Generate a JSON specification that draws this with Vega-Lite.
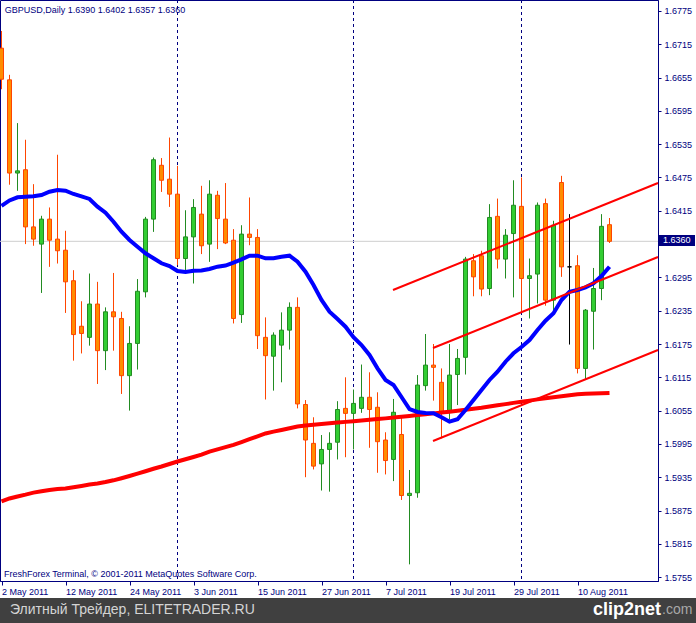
{
  "$schema": "https://vega.github.io/schema/vega-lite/v6.json",
  "width": 658,
  "height": 581,
  "autosize": {"type": "none"},
  "padding": {"left": 0, "top": 0, "right": 38, "bottom": 42},
  "background": "#ffffff",
  "config": {
    "view": {"stroke": "#000080", "strokeWidth": 1},
    "font": "Liberation Sans",
    "scale": {"continuousPadding": 0},
    "axis": {"grid": false, "title": null, "labelFont": "Liberation Sans", "labelFontSize": 9, "labelColor": "#000080", "tickColor": "#000080", "domainColor": "#000080", "labelOverlap": false, "labelFlush": false, "labelBound": false}
  },
  "datasets": {
    "bars": [
      {"i":0,"d":"2011-05-02","o":1.6708,"h":1.6739,"l":1.6634,"c":1.6652,"ma":1.64237,"ma2":1.58913},
      {"i":1,"d":"2011-05-03","o":1.6651,"h":1.6660,"l":1.6462,"c":1.6483,"ma":1.64336,"ma2":1.58967},
      {"i":2,"d":"2011-05-04","o":1.6483,"h":1.6573,"l":1.6451,"c":1.6487,"ma":1.64393,"ma2":1.59003},
      {"i":3,"d":"2011-05-05","o":1.6489,"h":1.6543,"l":1.6355,"c":1.6386,"ma":1.64402,"ma2":1.59036},
      {"i":4,"d":"2011-05-06","o":1.6386,"h":1.6463,"l":1.6352,"c":1.6364,"ma":1.64411,"ma2":1.59073},
      {"i":5,"d":"2011-05-09","o":1.6355,"h":1.6406,"l":1.6267,"c":1.6400,"ma":1.64435,"ma2":1.59098},
      {"i":6,"d":"2011-05-10","o":1.6400,"h":1.6421,"l":1.6314,"c":1.6362,"ma":1.64494,"ma2":1.59120},
      {"i":7,"d":"2011-05-11","o":1.6364,"h":1.6516,"l":1.6320,"c":1.6343,"ma":1.64525,"ma2":1.59138},
      {"i":8,"d":"2011-05-12","o":1.6344,"h":1.6379,"l":1.6231,"c":1.6287,"ma":1.64512,"ma2":1.59146},
      {"i":9,"d":"2011-05-13","o":1.6289,"h":1.6308,"l":1.6145,"c":1.6192,"ma":1.64453,"ma2":1.59170},
      {"i":10,"d":"2011-05-16","o":1.6207,"h":1.6252,"l":1.6158,"c":1.6194,"ma":1.64411,"ma2":1.59193},
      {"i":11,"d":"2011-05-17","o":1.6187,"h":1.6302,"l":1.6172,"c":1.6247,"ma":1.64363,"ma2":1.59217},
      {"i":12,"d":"2011-05-18","o":1.6247,"h":1.6287,"l":1.6103,"c":1.6163,"ma":1.64224,"ma2":1.59236},
      {"i":13,"d":"2011-05-19","o":1.6163,"h":1.6241,"l":1.6128,"c":1.6233,"ma":1.64116,"ma2":1.59263},
      {"i":14,"d":"2011-05-20","o":1.6233,"h":1.6303,"l":1.6163,"c":1.6224,"ma":1.63954,"ma2":1.59294},
      {"i":15,"d":"2011-05-23","o":1.6221,"h":1.6233,"l":1.6085,"c":1.6118,"ma":1.63773,"ma2":1.59332},
      {"i":16,"d":"2011-05-24","o":1.6118,"h":1.6207,"l":1.6055,"c":1.6176,"ma":1.63624,"ma2":1.59372},
      {"i":17,"d":"2011-05-25","o":1.6176,"h":1.6292,"l":1.6129,"c":1.6270,"ma":1.63503,"ma2":1.59415},
      {"i":18,"d":"2011-05-26","o":1.6269,"h":1.6404,"l":1.6259,"c":1.6400,"ma":1.63384,"ma2":1.59458},
      {"i":19,"d":"2011-05-27","o":1.6400,"h":1.6511,"l":1.6377,"c":1.6507,"ma":1.63294,"ma2":1.59502},
      {"i":20,"d":"2011-05-30","o":1.6497,"h":1.6510,"l":1.6449,"c":1.6470,"ma":1.63204,"ma2":1.59543},
      {"i":21,"d":"2011-05-31","o":1.6472,"h":1.6547,"l":1.6422,"c":1.6445,"ma":1.63155,"ma2":1.59588},
      {"i":22,"d":"2011-06-01","o":1.6445,"h":1.6496,"l":1.6317,"c":1.6329,"ma":1.63065,"ma2":1.59633},
      {"i":23,"d":"2011-06-02","o":1.6329,"h":1.6416,"l":1.6302,"c":1.6368,"ma":1.63047,"ma2":1.59673},
      {"i":24,"d":"2011-06-03","o":1.6368,"h":1.6436,"l":1.6284,"c":1.6421,"ma":1.63071,"ma2":1.59714},
      {"i":25,"d":"2011-06-06","o":1.6409,"h":1.6460,"l":1.6337,"c":1.6352,"ma":1.63074,"ma2":1.59757},
      {"i":26,"d":"2011-06-07","o":1.6355,"h":1.6470,"l":1.6323,"c":1.6445,"ma":1.63101,"ma2":1.59811},
      {"i":27,"d":"2011-06-08","o":1.6443,"h":1.6451,"l":1.6346,"c":1.6401,"ma":1.63143,"ma2":1.59851},
      {"i":28,"d":"2011-06-09","o":1.6400,"h":1.6465,"l":1.6355,"c":1.6357,"ma":1.63164,"ma2":1.59891},
      {"i":29,"d":"2011-06-10","o":1.6362,"h":1.6382,"l":1.6212,"c":1.6221,"ma":1.63215,"ma2":1.59934},
      {"i":30,"d":"2011-06-13","o":1.6228,"h":1.6389,"l":1.6213,"c":1.6373,"ma":1.63276,"ma2":1.59984},
      {"i":31,"d":"2011-06-14","o":1.6373,"h":1.6439,"l":1.6353,"c":1.6367,"ma":1.63341,"ma2":1.60037},
      {"i":32,"d":"2011-06-15","o":1.6367,"h":1.6382,"l":1.6166,"c":1.6190,"ma":1.63341,"ma2":1.60087},
      {"i":33,"d":"2011-06-16","o":1.6187,"h":1.6223,"l":1.6075,"c":1.6154,"ma":1.63294,"ma2":1.60138},
      {"i":34,"d":"2011-06-17","o":1.6153,"h":1.6196,"l":1.6091,"c":1.6191,"ma":1.63294,"ma2":1.60172},
      {"i":35,"d":"2011-06-20","o":1.6173,"h":1.6232,"l":1.6106,"c":1.6200,"ma":1.63323,"ma2":1.60202},
      {"i":36,"d":"2011-06-21","o":1.6200,"h":1.6250,"l":1.6165,"c":1.6241,"ma":1.63341,"ma2":1.60233},
      {"i":37,"d":"2011-06-22","o":1.6241,"h":1.6259,"l":1.6059,"c":1.6067,"ma":1.63233,"ma2":1.60264},
      {"i":38,"d":"2011-06-23","o":1.6066,"h":1.6074,"l":1.5935,"c":1.6002,"ma":1.63053,"ma2":1.60282},
      {"i":39,"d":"2011-06-24","o":1.5996,"h":1.6043,"l":1.5949,"c":1.5955,"ma":1.62813,"ma2":1.60294},
      {"i":40,"d":"2011-06-27","o":1.5959,"h":1.6011,"l":1.5911,"c":1.5985,"ma":1.62543,"ma2":1.60309},
      {"i":41,"d":"2011-06-28","o":1.5985,"h":1.6016,"l":1.5909,"c":1.5996,"ma":1.62332,"ma2":1.60321},
      {"i":42,"d":"2011-06-29","o":1.5998,"h":1.6072,"l":1.5967,"c":1.6057,"ma":1.62201,"ma2":1.60334},
      {"i":43,"d":"2011-06-30","o":1.6059,"h":1.6115,"l":1.5971,"c":1.6050,"ma":1.62062,"ma2":1.60347},
      {"i":44,"d":"2011-07-01","o":1.6050,"h":1.6093,"l":1.5985,"c":1.6068,"ma":1.61871,"ma2":1.60359},
      {"i":45,"d":"2011-07-04","o":1.6059,"h":1.6138,"l":1.6051,"c":1.6079,"ma":1.61732,"ma2":1.60372},
      {"i":46,"d":"2011-07-05","o":1.6079,"h":1.6124,"l":1.5988,"c":1.6057,"ma":1.61552,"ma2":1.60384},
      {"i":47,"d":"2011-07-06","o":1.6061,"h":1.6088,"l":1.5943,"c":1.5999,"ma":1.61312,"ma2":1.60397},
      {"i":48,"d":"2011-07-07","o":1.6002,"h":1.6016,"l":1.5940,"c":1.5965,"ma":1.61102,"ma2":1.60410},
      {"i":49,"d":"2011-07-08","o":1.5967,"h":1.6076,"l":1.5928,"c":1.6052,"ma":1.61012,"ma2":1.60424},
      {"i":50,"d":"2011-07-11","o":1.6012,"h":1.6043,"l":1.5894,"c":1.5902,"ma":1.60795,"ma2":1.60439},
      {"i":51,"d":"2011-07-12","o":1.5902,"h":1.5948,"l":1.5778,"c":1.5906,"ma":1.60579,"ma2":1.60453},
      {"i":52,"d":"2011-07-13","o":1.5907,"h":1.6119,"l":1.5898,"c":1.6101,"ma":1.60525,"ma2":1.60469},
      {"i":53,"d":"2011-07-14","o":1.6100,"h":1.6193,"l":1.6091,"c":1.6137,"ma":1.60507,"ma2":1.60484},
      {"i":54,"d":"2011-07-15","o":1.6137,"h":1.6175,"l":1.6073,"c":1.6133,"ma":1.60502,"ma2":1.60500},
      {"i":55,"d":"2011-07-18","o":1.6106,"h":1.6131,"l":1.6005,"c":1.6053,"ma":1.60430,"ma2":1.60514},
      {"i":56,"d":"2011-07-19","o":1.6055,"h":1.6175,"l":1.6039,"c":1.6119,"ma":1.60350,"ma2":1.60530},
      {"i":57,"d":"2011-07-20","o":1.6120,"h":1.6166,"l":1.6065,"c":1.6149,"ma":1.60394,"ma2":1.60548},
      {"i":58,"d":"2011-07-21","o":1.6151,"h":1.6332,"l":1.6120,"c":1.6328,"ma":1.60561,"ma2":1.60565},
      {"i":59,"d":"2011-07-22","o":1.6325,"h":1.6337,"l":1.6261,"c":1.6296,"ma":1.60741,"ma2":1.60583},
      {"i":60,"d":"2011-07-25","o":1.6334,"h":1.6343,"l":1.6261,"c":1.6274,"ma":1.60921,"ma2":1.60601},
      {"i":61,"d":"2011-07-26","o":1.6275,"h":1.6427,"l":1.6263,"c":1.6403,"ma":1.61102,"ma2":1.60624},
      {"i":62,"d":"2011-07-27","o":1.6405,"h":1.6437,"l":1.6311,"c":1.6328,"ma":1.61251,"ma2":1.60646},
      {"i":63,"d":"2011-07-28","o":1.6328,"h":1.6382,"l":1.6293,"c":1.6371,"ma":1.61431,"ma2":1.60667},
      {"i":64,"d":"2011-07-29","o":1.6374,"h":1.6470,"l":1.6259,"c":1.6425,"ma":1.61583,"ma2":1.60689},
      {"i":65,"d":"2011-08-01","o":1.6423,"h":1.6475,"l":1.6233,"c":1.6293,"ma":1.61696,"ma2":1.60711},
      {"i":66,"d":"2011-08-02","o":1.6293,"h":1.6329,"l":1.6221,"c":1.6298,"ma":1.61822,"ma2":1.60730},
      {"i":67,"d":"2011-08-03","o":1.6301,"h":1.6430,"l":1.6248,"c":1.6425,"ma":1.62002,"ma2":1.60752},
      {"i":68,"d":"2011-08-04","o":1.6428,"h":1.6437,"l":1.6244,"c":1.6254,"ma":1.62170,"ma2":1.60774},
      {"i":69,"d":"2011-08-05","o":1.6254,"h":1.6397,"l":1.6236,"c":1.6389,"ma":1.62303,"ma2":1.60792},
      {"i":70,"d":"2011-08-08","o":1.6466,"h":1.6478,"l":1.6296,"c":1.6314,"ma":1.62543,"ma2":1.60810},
      {"i":71,"d":"2011-08-09","o":1.6314,"h":1.6409,"l":1.6174,"c":1.6314,"ma":1.62692,"ma2":1.60826},
      {"i":72,"d":"2011-08-10","o":1.6316,"h":1.6335,"l":1.6122,"c":1.6131,"ma":1.62723,"ma2":1.60844},
      {"i":73,"d":"2011-08-11","o":1.6131,"h":1.6238,"l":1.6111,"c":1.6236,"ma":1.62772,"ma2":1.60853},
      {"i":74,"d":"2011-08-12","o":1.6234,"h":1.6312,"l":1.6165,"c":1.6275,"ma":1.62844,"ma2":1.60857},
      {"i":75,"d":"2011-08-15","o":1.6275,"h":1.6409,"l":1.6254,"c":1.6387,"ma":1.62975,"ma2":1.60862},
      {"i":76,"d":"2011-08-16","o":1.6390,"h":1.6402,"l":1.6357,"c":1.6360,"ma":1.63143,"ma2":1.60867}
    ],
    "seps": [{"i":22,"d":"2011-06-01"},{"i":44,"d":"2011-07-01"},{"i":65,"d":"2011-08-01"}],
    "chan": [
      {"line":"upper","i":48.94,"p":1.62723},{"line":"upper","i":82.0625,"p":1.64651},
      {"line":"middle","i":53.94,"p":1.61678},{"line":"middle","i":82.0625,"p":1.63318},
      {"line":"lower","i":53.94,"p":1.60002},{"line":"lower","i":82.0625,"p":1.61642}
    ]
  },
  "layer": [
    {
      "data": {"name": "seps"},
      "mark": {"type": "rule", "color": "#000080", "strokeDash": [3, 3], "strokeWidth": 1},
      "encoding": {
        "x": {"field": "i", "type": "quantitative", "title": null,
          "scale": {"domain": [-0.1875, 82.0625], "nice": false, "zero": false, "padding": 0},
          "axis": {"orient": "bottom", "values": [0, 8, 16, 24, 32, 40, 48, 56, 64, 72], "tickCount": 40,
            "labelExpr": "['2 May 2011','12 May 2011','24 May 2011','3 Jun 2011','15 Jun 2011','27 Jun 2011','7 Jul 2011','19 Jul 2011','29 Jul 2011','10 Aug 2011'][round(datum.value/8)]",
            "labelAlign": "left", "tickSize": 4, "labelPadding": 2, "title": null, "labelOverlap": false, "labelFlush": false, "labelBound": false}}
      }
    },
    {
      "data": {"values": [{"p": 1.636}]},
      "mark": {"type": "rule", "color": "#CFCFCF", "strokeWidth": 1},
      "encoding": {
        "y": {"field": "p", "type": "quantitative", "title": null,
          "scale": {"domain": [1.5748, 1.67948], "nice": false, "zero": false, "padding": 0},
          "axis": {"orient": "right", "values": [1.6775, 1.6715, 1.6655, 1.6595, 1.6535, 1.6475, 1.6415, 1.6295, 1.6235, 1.6175, 1.6115, 1.6055, 1.5995, 1.5935, 1.5875, 1.5815, 1.5755], "tickCount": 40,
            "format": ".4f", "tickSize": 3, "labelPadding": 3, "title": null, "labelOverlap": false, "labelFlush": false, "labelBound": false}}
      }
    },
    {
      "data": {"values": [{"name": "footer"}]},
      "mark": {"type": "rect", "color": "#404040"},
      "encoding": {
        "x": {"datum": -0.1875, "type": "quantitative", "title": null},
        "x2": {"datum": 86.8125},
        "y": {"datum": 1.57174, "type": "quantitative", "title": null},
        "y2": {"datum": 1.56723}
      }
    },
    {
      "data": {"name": "bars"},
      "mark": {"type": "rule", "strokeWidth": 1},
      "encoding": {
        "x": {"field": "i", "type": "quantitative", "title": null},
        "y": {"field": "l", "type": "quantitative", "title": null},
        "y2": {"field": "h"},
        "color": {"condition": [{"test": "datum.c > datum.o", "value": "#228B22"}, {"test": "datum.c < datum.o", "value": "#FF4500"}], "value": "#000000"}
      }
    },
    {
      "data": {"name": "bars"},
      "mark": {"type": "bar", "width": 4, "strokeWidth": 1},
      "encoding": {
        "x": {"field": "i", "type": "quantitative", "title": null},
        "y": {"field": "o", "type": "quantitative", "title": null},
        "y2": {"field": "c"},
        "fill": {"condition": [{"test": "datum.c > datum.o", "value": "#32CD32"}, {"test": "datum.c < datum.o", "value": "#FF8C00"}], "value": "#000000"},
        "stroke": {"condition": [{"test": "datum.c > datum.o", "value": "#228B22"}, {"test": "datum.c < datum.o", "value": "#FF4500"}], "value": "#000000"}
      }
    },
    {
      "data": {"name": "bars"},
      "mark": {"type": "line", "color": "#FF0000", "strokeWidth": 4},
      "encoding": {
        "x": {"field": "i", "type": "quantitative", "title": null},
        "y": {"field": "ma2", "type": "quantitative", "title": null}
      }
    },
    {
      "data": {"name": "bars"},
      "mark": {"type": "line", "color": "#0000FF", "strokeWidth": 4},
      "encoding": {
        "x": {"field": "i", "type": "quantitative", "title": null},
        "y": {"field": "ma", "type": "quantitative", "title": null}
      }
    },
    {
      "data": {"name": "chan"},
      "mark": {"type": "line", "color": "#FF0000", "strokeWidth": 2},
      "encoding": {
        "x": {"field": "i", "type": "quantitative", "title": null},
        "y": {"field": "p", "type": "quantitative", "title": null},
        "detail": {"field": "line"}
      }
    },
    {
      "data": {"values": [{"label": "GBPUSD,Daily  1.6390 1.6402 1.6357 1.6360"}]},
      "mark": {"type": "text", "align": "left", "baseline": "middle", "fontSize": 9, "color": "#000080"},
      "encoding": {
        "x": {"datum": 0.4, "type": "quantitative", "title": null},
        "y": {"datum": 1.67768, "type": "quantitative", "title": null},
        "text": {"field": "label"}
      }
    },
    {
      "data": {"values": [{"label": "FreshForex Terminal, © 2001-2011 MetaQuotes Software Corp."}]},
      "mark": {"type": "text", "align": "left", "baseline": "middle", "fontSize": 9, "color": "#000080"},
      "encoding": {
        "x": {"datum": 0.3, "type": "quantitative", "title": null},
        "y": {"datum": 1.57606, "type": "quantitative", "title": null},
        "text": {"field": "label"}
      }
    },
    {
      "data": {"values": [{"label": "1.6360"}]},
      "mark": {"type": "rect", "color": "#000080"},
      "encoding": {
        "x": {"datum": 82.1875, "type": "quantitative", "title": null},
        "x2": {"datum": 86.6875},
        "y": {"datum": 1.63516, "type": "quantitative", "title": null},
        "y2": {"datum": 1.63714}
      }
    },
    {
      "data": {"values": [{"label": "1.6360"}]},
      "mark": {"type": "text", "align": "left", "baseline": "middle", "fontSize": 9, "color": "#FFFFFF"},
      "encoding": {
        "x": {"datum": 82.6875, "type": "quantitative", "title": null},
        "y": {"datum": 1.63615, "type": "quantitative", "title": null},
        "text": {"field": "label"}
      }
    },
    {
      "data": {"values": [{"label": "Элитный Трейдер, ELITETRADER.RU"}]},
      "mark": {"type": "text", "align": "left", "baseline": "middle", "fontSize": 14, "color": "#D4D4D4"},
      "encoding": {
        "x": {"datum": 1.0625, "type": "quantitative", "title": null},
        "y": {"datum": 1.56958, "type": "quantitative", "title": null},
        "text": {"field": "label"}
      }
    },
    {
      "data": {"values": [{"label": "clip2net"}]},
      "mark": {"type": "text", "align": "left", "baseline": "middle", "fontSize": 18, "fontWeight": "bold", "color": "#FFFFFF"},
      "encoding": {
        "x": {"datum": 73.9375, "type": "quantitative", "title": null},
        "y": {"datum": 1.56958, "type": "quantitative", "title": null},
        "text": {"field": "label"}
      }
    },
    {
      "data": {"values": [{"label": ".com"}]},
      "mark": {"type": "text", "align": "left", "baseline": "middle", "fontSize": 14, "color": "#A8A8A8"},
      "encoding": {
        "x": {"datum": 82.5625, "type": "quantitative", "title": null},
        "y": {"datum": 1.56958, "type": "quantitative", "title": null},
        "text": {"field": "label"}
      }
    }
  ]
}
